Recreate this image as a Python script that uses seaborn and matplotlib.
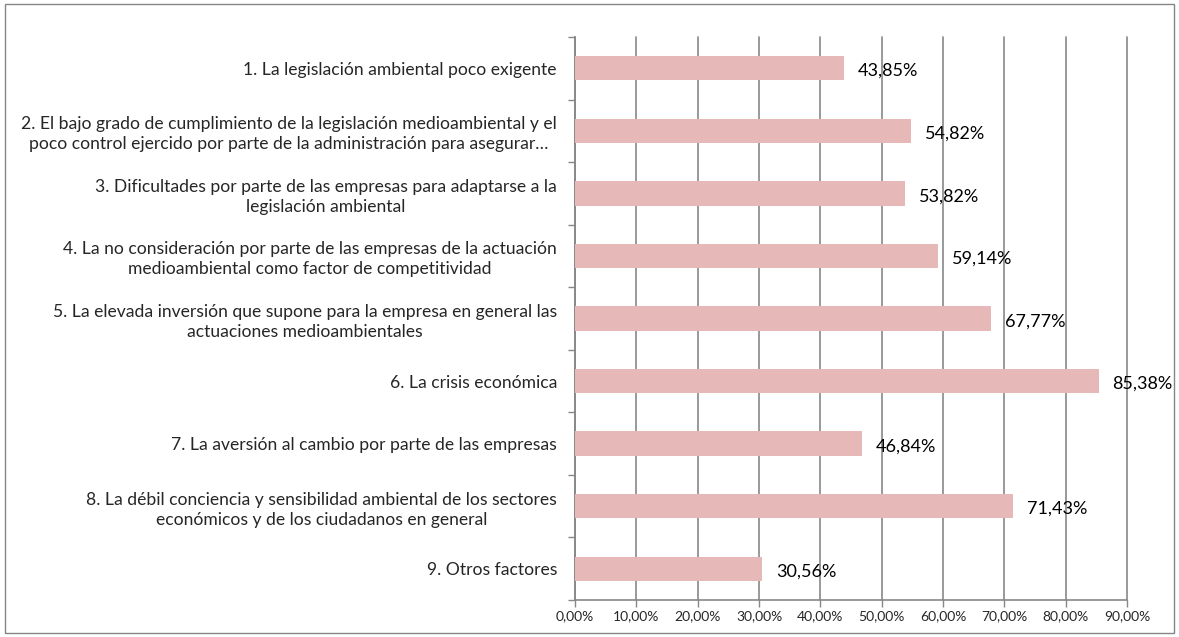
"""Horizontal bar chart: factores que dificultan la actuación medioambiental."""

import pandas as pd
import seaborn as sns
from matplotlib import pyplot as plt
from matplotlib.ticker import FuncFormatter, FixedLocator

categorias = [
    "1. La legislación ambiental poco exigente",
    "2. El bajo grado de cumplimiento de la legislación medioambiental y el\n"
    "poco control ejercido por parte de la administración para asegurar…",
    "3. Dificultades por parte de las empresas para adaptarse a la\nlegislación ambiental",
    "4. La no consideración por parte de las empresas de la actuación\n"
    "medioambiental como factor de competitividad",
    "5. La elevada inversión que supone para la empresa en general las\n"
    "actuaciones medioambientales",
    "6. La crisis económica",
    "7. La aversión al cambio por parte de las empresas",
    "8. La débil conciencia y sensibilidad ambiental de los sectores\n"
    "económicos y de los ciudadanos en general",
    "9. Otros factores",
]
porcentajes = [43.85, 54.82, 53.82, 59.14, 67.77, 85.38, 46.84, 71.43, 30.56]
xticks = [0, 10, 20, 30, 40, 50, 60, 70, 80, 90]

BAR = "#E6B9B8"
GRID = "#878787"

sns.set_style("white")
plt.rcParams['font.family'] = ['Lato', 'DejaVu Sans']

df = pd.DataFrame({"factor": categorias, "valor": porcentajes})

fig = plt.figure(figsize=(11.79, 6.37), dpi=100)
ax = fig.add_axes([0.4877, 0.0581, 0.9559 - 0.4877, 0.9419 - 0.0581])

sns.barplot(data=df, y="factor", x="valor", orient="h", color=BAR,
            saturation=1, width=0.39, linewidth=0, edgecolor=BAR, ax=ax, zorder=3)

# value labels, Excel style: just right of the bar end and a bit low
for i, v in enumerate(porcentajes):
    ax.annotate(f"{v:.2f}%".replace(".", ","), xy=(v, i), xytext=(10, -2),
                textcoords="offset points", ha="left", va="center",
                fontsize=13, color="black", zorder=4)

ax.set_xlim(0, 90)
ax.set_ylim(len(categorias) - 0.5, -0.5)
ax.xaxis.set_major_locator(FixedLocator(xticks))
ax.xaxis.set_major_formatter(FuncFormatter(lambda x, _: f"{x:.2f}%".replace(".", ",")))
ax.grid(axis="x", color=GRID, linewidth=1.2, zorder=0)
ax.grid(axis="y", visible=False)
for line in ax.get_xgridlines():
    line.set_clip_on(False)

# y ticks at category boundaries, labels centered on the bars
ax.set_yticks([i - 0.5 for i in range(len(categorias) + 1)])
ax.set_yticklabels([])
ax.set_yticks(range(len(categorias)), minor=True)
ax.set_yticklabels(categorias, minor=True, fontsize=12.6, multialignment="center",
                   linespacing=1.3)
ax.tick_params(axis="y", which="major", length=5, width=1, color=GRID, direction="out", left=True)
ax.tick_params(axis="y", which="minor", length=0, pad=13)
ax.tick_params(axis="x", length=5, width=1, color=GRID, direction="out", bottom=True,
               labelsize=10, pad=2)

ax.set_xlabel("")
ax.set_ylabel("")
for side in ["top", "right"]:
    ax.spines[side].set_visible(False)
for side in ["left", "bottom"]:
    ax.spines[side].set_color(GRID)
    ax.spines[side].set_linewidth(1.2)

# chart border
fig.patches.append(plt.Rectangle((0.004, 0.006), 0.992, 0.988, transform=fig.transFigure,
                                 fill=False, edgecolor="#868686", linewidth=1.0))

fig.savefig("out.png", dpi=100)
